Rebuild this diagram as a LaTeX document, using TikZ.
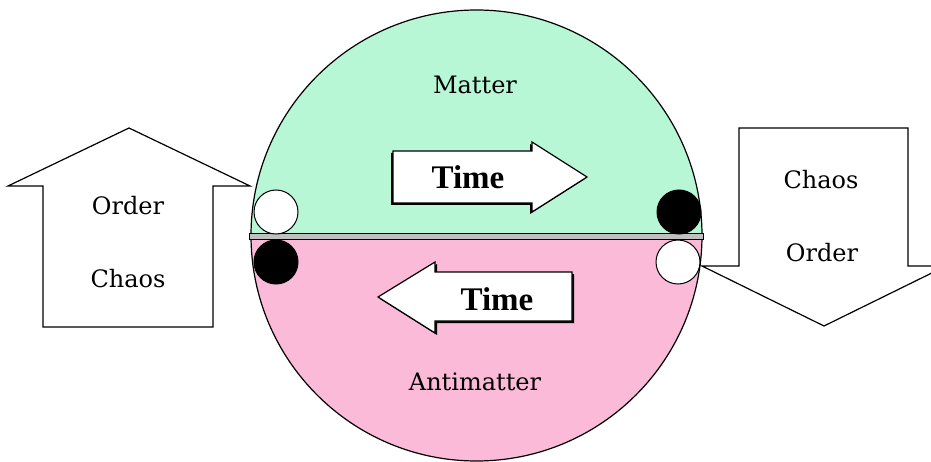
\documentclass[tikz,border=0pt]{standalone}
\usepackage{fontspec}
\setmainfont{DejaVu Serif}
\newfontfamily\timefont{Liberation Serif}
\definecolor{mint}{RGB}{183,247,214}
\definecolor{pinkish}{RGB}{250,186,216}
\definecolor{sepgray}{RGB}{150,150,150}
\begin{document}
\begin{tikzpicture}[x=1pt,y=-1pt,
  outl/.style={draw=black,line width=1.2pt},
  bigarrow/.style={outl,fill=white,line join=miter},
  lbl/.style={font=\fontsize{24}{24}\selectfont,inner sep=0pt},
  timelbl/.style={font=\timefont\bfseries\fontsize{33}{33}\selectfont,inner sep=0pt},
  ball/.style={draw=black,line width=1pt}]
\useasboundingbox (0,0) rectangle (931,462);
% circle halves
\fill[mint] (251,235.5) arc[start angle=180,end angle=0,x radius=225.5,y radius=-225.5] -- cycle;
\fill[pinkish] (251,235.5) arc[start angle=180,end angle=360,x radius=225.5,y radius=-225.5] -- cycle;
\draw[outl] (476.5,235.5) circle[radius=225.5];
% separator
\draw[black,line width=1pt,fill=sepgray!60] (249,234) rectangle (703,240);
% small balls
\draw[ball,fill=white] (276,212) circle[radius=22];
\draw[ball,fill=black] (276,262) circle[radius=22];
\draw[ball,fill=black] (679,212) circle[radius=22];
\draw[ball,fill=white] (678,262) circle[radius=22];
% time arrow (matter, right)
\fill[black] (391,153)--(530,153)--(530,144)--(585,179)--(530,214)--(530,205)--(391,205)--cycle;
\draw[bigarrow] (393,151)--(532,151)--(532,142)--(587,177)--(532,212)--(532,203)--(393,203)--cycle;
\node[timelbl] (t1) at (468,177) {Time};
% time arrow (antimatter, left)
\fill[black] (574,274)--(437,274)--(437,264)--(380,299)--(437,335)--(437,323)--(574,323)--cycle;
\draw[bigarrow] (572,272)--(435,272)--(435,262)--(378,297)--(435,333)--(435,321)--(572,321)--cycle;
\node[timelbl] (t2) at (497,299) {Time};
% left up arrow
\draw[bigarrow] (43,327)--(43,186)--(8,186)--(129,128)--(250,186)--(213,186)--(213,327)--cycle;
% right down arrow
\draw[bigarrow] (739,128)--(908,128)--(908,266)--(946,266)--(824,326)--(702,266)--(739,266)--cycle;
% labels
\node[lbl] (matter) at (475,85) {Matter};
\node[lbl] (anti) at (475,382) {Antimatter};
\node[lbl] (lorder) at (128,206) {Order};
\node[lbl] (lchaos) at (128,279) {Chaos};
\node[lbl] (rchaos) at (821,180) {Chaos};
\node[lbl] (rorder) at (822,253) {Order};
\end{tikzpicture}
\end{document}
